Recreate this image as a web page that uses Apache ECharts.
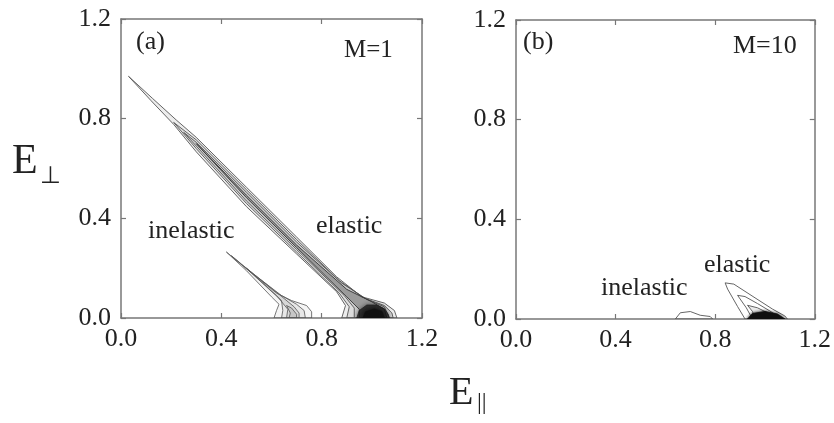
<!DOCTYPE html>
<html><head><meta charset="utf-8">
<script src="https://cdn.jsdelivr.net/npm/echarts@6/dist/echarts.min.js"></script>
<style>html,body{margin:0;padding:0;background:#fff}#c{width:834px;height:423px}</style>
</head><body><div id="c"></div>
<script>
// Axis ticks (both panels, both axes)
const axisTicks = [0.0, 0.4, 0.8, 1.2];
const tickLabels = ['0.0', '0.4', '0.8', '1.2'];

// Panel (a) M=1 : elastic contours (E_par, E_perp)
const aElastic1 = [[0.88,0],[0.895,0.05],[0.86,0.105],[0.70,0.257],[0.50,0.447],[0.30,0.667],[0.21,0.777],[0.12,0.872],[0.03,0.97],[0.125,0.882],[0.22,0.795],[0.30,0.725],[0.50,0.525],[0.70,0.325],[0.86,0.165],[0.96,0.085],[1.05,0.06],[1.09,0.03],[1.10,0]];
const aElastic2 = [[0.90,0],[0.91,0.045],[0.87,0.10],[0.70,0.265],[0.50,0.46],[0.30,0.68],[0.21,0.785],[0.30,0.715],[0.50,0.515],[0.70,0.315],[0.87,0.15],[0.97,0.08],[1.05,0.05],[1.08,0.02],[1.085,0]];
const aElastic3 = [[0.93,0],[0.93,0.04],[0.89,0.09],[0.70,0.275],[0.50,0.47],[0.30,0.69],[0.25,0.745],[0.30,0.705],[0.50,0.505],[0.70,0.305],[0.88,0.14],[0.98,0.075],[1.05,0.045],[1.07,0]];
const aElastic4 = [[0.95,0],[0.95,0.035],[0.90,0.085],[0.70,0.283],[0.50,0.483],[0.30,0.70],[0.50,0.493],[0.70,0.293],[0.90,0.115],[1.0,0.065],[1.05,0.035],[1.06,0]];
const aBlob1 = [[0.94,0],[0.95,0.03],[0.98,0.052],[1.02,0.052],[1.05,0.037],[1.065,0.015],[1.07,0]];
const aBlob2 = [[0.965,0],[0.975,0.025],[1.01,0.036],[1.04,0.026],[1.05,0]];
// Panel (a) M=1 : inelastic contours
const aInelastic1 = [[0.61,0],[0.62,0.03],[0.63,0.055],[0.60,0.085],[0.50,0.19],[0.42,0.265],[0.51,0.19],[0.62,0.10],[0.68,0.07],[0.74,0.05],[0.76,0.025],[0.76,0]];
const aInelastic2 = [[0.64,0],[0.645,0.03],[0.64,0.07],[0.52,0.18],[0.44,0.25],[0.53,0.175],[0.64,0.09],[0.70,0.055],[0.73,0.03],[0.735,0]];
const aInelastic3 = [[0.66,0],[0.665,0.035],[0.62,0.09],[0.50,0.20],[0.63,0.095],[0.69,0.045],[0.71,0.02],[0.71,0]];
const aInelastic4 = [[0.67,0],[0.675,0.02],[0.66,0.05],[0.68,0.04],[0.70,0.015],[0.70,0]];

// Panel (b) M=10 : elastic contours
const bElastic1 = [[0.92,0],[0.89,0.05],[0.85,0.12],[0.84,0.145],[0.875,0.14],[0.96,0.085],[1.03,0.04],[1.08,0.012],[1.09,0]];
const bElastic2 = [[0.95,0],[0.925,0.045],[0.89,0.095],[0.92,0.09],[0.97,0.062],[1.02,0.032],[1.05,0.012],[1.06,0]];
const bElastic3 = [[0.96,0],[0.95,0.03],[0.93,0.055],[0.97,0.045],[1.01,0.025],[1.04,0]];
const bBlob = [[0.93,0],[0.95,0.022],[1.0,0.03],[1.05,0.02],[1.08,0]];
// Panel (b) M=10 : inelastic contour
const bInelastic1 = [[0.64,0],[0.66,0.025],[0.70,0.03],[0.74,0.015],[0.78,0.01],[0.79,0]];

const serif = 'Liberation Serif';
const txt = '#222';

function poly(pts, gi, fill, stroke, lw, blur) {
  return {
    type: 'custom', xAxisIndex: gi * 2, yAxisIndex: gi * 2, silent: true, clip: true,
    data: pts,
    renderItem: function (params, api) {
      if (params.dataIndex !== 0) return null;
      return {
        type: 'polygon',
        shape: { points: pts.map(p => api.coord(p)) },
        style: { fill: fill, stroke: stroke, lineWidth: lw, shadowBlur: blur || 0, shadowColor: blur ? fill : 'transparent' }
      };
    }
  };
}

function xAx(gi, pos, labels) {
  return {
    type: 'value', gridIndex: gi, position: pos, min: axisTicks[0], max: axisTicks[axisTicks.length - 1],
    interval: axisTicks[1] - axisTicks[0],
    axisLine: { show: true, onZero: false, lineStyle: { color: '#777', width: 1.5 } },
    axisTick: { show: true, inside: true, length: 5, lineStyle: { color: '#777', width: 1.2 } },
    axisLabel: { show: labels, margin: 8, fontFamily: serif, fontSize: 26, color: txt, showMinLabel: true, showMaxLabel: true,
      formatter: v => tickLabels[axisTicks.findIndex(t => Math.abs(t - v) < 1e-6)] ?? '' },
    splitLine: { show: false }
  };
}
function yAx(gi, pos, labels) {
  const a = xAx(gi, pos, labels);
  a.axisLabel.margin = 10;
  return a;
}

const chart = echarts.init(document.getElementById('c'), null, { renderer: 'canvas' });
const gA = 0, gB = 1;
const cFill = 'rgba(80,80,80,0.10)', cStroke = '#555';
chart.setOption({
  backgroundColor: '#fff',
  animation: false,
  grid: [
    { left: 121, top: 19, width: 301, height: 299 },
    { left: 516, top: 20, width: 301, height: 299 }
  ],
  xAxis: [xAx(0, 'bottom', true), xAx(0, 'top', false), xAx(1, 'bottom', true), xAx(1, 'top', false)],
  yAxis: [yAx(0, 'left', true), yAx(0, 'right', false), yAx(1, 'left', true), yAx(1, 'right', false)],
  series: [
    poly(aElastic1, gA, cFill, cStroke, 0.9),
    poly(aElastic2, gA, cFill, cStroke, 0.9),
    poly(aElastic3, gA, cFill, cStroke, 0.9),
    poly(aElastic4, gA, 'rgba(40,40,40,0.30)', '#333', 0.9),
    poly(aBlob1, gA, 'rgba(20,20,20,0.7)', '#222', 0.8, 4),
    poly(aBlob2, gA, '#111', '#111', 0.8, 3),
    poly(aInelastic1, gA, 'rgba(80,80,80,0.06)', cStroke, 0.8),
    poly(aInelastic2, gA, 'rgba(80,80,80,0.08)', cStroke, 0.8),
    poly(aInelastic3, gA, 'rgba(80,80,80,0.10)', cStroke, 0.8),
    poly(aInelastic4, gA, 'rgba(80,80,80,0.12)', cStroke, 0.8),
    poly(bElastic1, gB, 'rgba(255,255,255,0)', cStroke, 0.9),
    poly(bElastic2, gB, 'rgba(255,255,255,0)', cStroke, 0.9),
    poly(bElastic3, gB, 'rgba(80,80,80,0.12)', cStroke, 0.9),
    poly(bBlob, gB, '#111', '#111', 0.8, 3),
    poly(bInelastic1, gB, 'rgba(255,255,255,0)', cStroke, 0.9)
  ],
  graphic: [
    { type: 'text', left: 136, top: 29, style: { text: '(a)', font: '26px "Liberation Serif"', fill: txt } },
    { type: 'text', left: 344, top: 38, style: { text: 'M=1', font: '25px "Liberation Serif"', fill: txt } },
    { type: 'text', left: 148, top: 218, style: { text: 'inelastic', font: '26px "Liberation Serif"', fill: txt } },
    { type: 'text', left: 316, top: 213, style: { text: 'elastic', font: '26px "Liberation Serif"', fill: txt } },
    { type: 'text', left: 523, top: 29, style: { text: '(b)', font: '26px "Liberation Serif"', fill: txt } },
    { type: 'text', left: 733, top: 33, style: { text: 'M=10', font: '26px "Liberation Serif"', fill: txt } },
    { type: 'text', left: 601, top: 275, style: { text: 'inelastic', font: '26px "Liberation Serif"', fill: txt } },
    { type: 'text', left: 704, top: 252, style: { text: 'elastic', font: '26px "Liberation Serif"', fill: txt } },
    { type: 'text', left: 12, top: 141, style: { text: 'E', font: '42px "Liberation Serif"', fill: txt } },
    { type: 'text', left: 40, top: 165, style: { text: '\u22A5', font: '24px "DejaVu Sans"', fill: txt } },
    { type: 'text', left: 449, top: 373, style: { text: 'E', font: '40px "Liberation Serif"', fill: txt } },
    { type: 'text', left: 477, top: 391, style: { text: '||', font: '24px "Liberation Serif"', fill: txt } }
  ]
});
</script></body></html>
